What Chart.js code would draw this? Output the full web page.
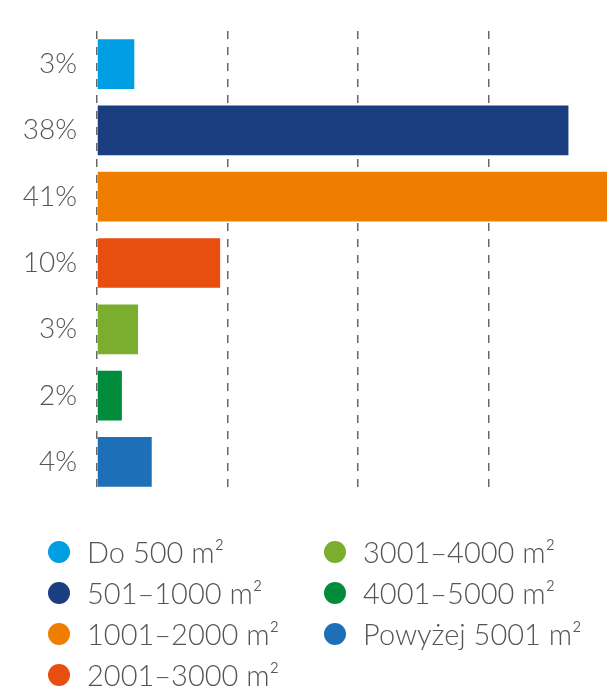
<!DOCTYPE html>
<html>
<head>
<meta charset="utf-8">
<script src="https://cdn.jsdelivr.net/npm/chart.js@4/dist/chart.umd.min.js"></script>
<style>
    html, body { margin: 0; padding: 0; background: #fff; }
    #wrap { position: relative; width: 615px; height: 686px; }
    #legend {
        position: absolute; left: 48px; top: 531px;
        display: grid; grid-template-columns: 276px 260px;
        grid-auto-flow: column; grid-template-rows: repeat(4, 41px);
        font-family: Lato, sans-serif; font-weight: 300; font-size: 29px; color: #555;
    }
    .item { display: flex; align-items: center; white-space: nowrap; }
    .dot { width: 22px; height: 22px; border-radius: 50%; margin-right: 17px; flex: none; }
</style>
</head>
<body>
<div id="wrap">
    <canvas id="sizeChart" width="615" height="686"></canvas>
    <div id="legend"></div>
</div>
<script>
const labels = ['3%', '38%', '41%', '10%', '3%', '2%', '4%'];
const shares = [3.0, 37.9, 41.0, 9.9, 3.3, 2.0, 4.4];
const sizeRanges = ['Do 500 m²', '501–1000 m²', '1001–2000 m²', '2001–3000 m²', '3001–4000 m²', '4001–5000 m²', 'Powyżej 5001 m²'];
const barColors = ['#009fe3', '#1b3e81', '#ef7d00', '#e84e0f', '#7bae2f', '#008c3a', '#1d70b7'];
const gridSteps = [0, 10.5, 21, 31.5];

const legendBox = document.getElementById('legend');
sizeRanges.forEach((name, i) => {
    const item = document.createElement('div');
    item.className = 'item';
    item.innerHTML = `<span class="dot" style="background:${barColors[i]}"></span><span>${name}</span>`;
    legendBox.appendChild(item);
});

new Chart(document.getElementById('sizeChart').getContext('2d'), {
    type: 'bar',
    data: {
        labels: labels,
        datasets: [{
            data: shares,
            backgroundColor: barColors,
            borderWidth: 0,
            categoryPercentage: 1,
            barPercentage: 0.75
        }]
    },
    options: {
        indexAxis: 'y',
        responsive: false,
        animation: false,
        layout: { padding: { top: 31, right: 8, bottom: 191, left: 0 } },
        plugins: { legend: { display: false }, tooltip: { enabled: false } },
        scales: {
            x: {
                min: 0,
                max: 41,
                afterBuildTicks: (scale) => { scale.ticks = gridSteps.map(v => ({ value: v })); },
                afterFit: (scale) => { scale.height = 0; },
                ticks: { display: false },
                grid: { color: '#666', lineWidth: 1.5, drawTicks: false },
                border: { display: false, dash: [8, 8] }
            },
            y: {
                afterFit: (scale) => {
                    scale.width = 97;
                    scale.paddingTop = 0;
                    scale.paddingBottom = 0;
                },
                grid: { display: false, drawTicks: false },
                border: { display: false },
                ticks: {
                    padding: 20,
                    color: '#555',
                    font: { family: 'Lato', weight: 300, size: 28 }
                }
            }
        }
    }
});
</script>
</body>
</html>
